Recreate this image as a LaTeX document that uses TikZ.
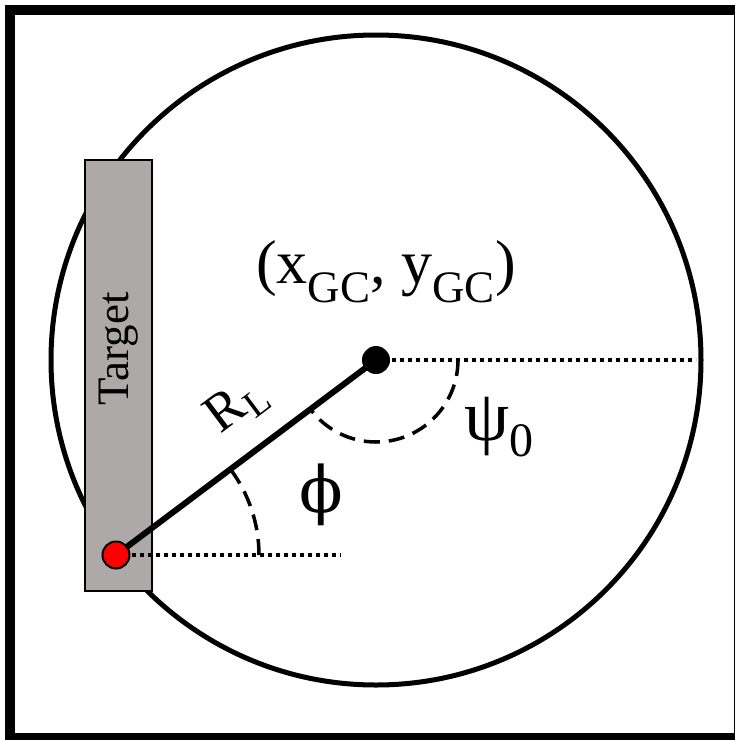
\documentclass[tikz,border=0pt]{standalone}
\usepackage{fontspec}
\setmainfont{Liberation Serif}
\newfontfamily\greekalt{DejaVu Serif}
\usetikzlibrary{positioning}
\definecolor{TargetGray}{HTML}{ADA9A9}
\definecolor{SourceRed}{HTML}{FF0000}
\newcommand{\lowsub}[3]{\raisebox{#1}{\fontsize{#2}{#2}\selectfont #3}}

\begin{document}
\begin{tikzpicture}[x=1pt,y=-1pt,
    dotline/.style={line width=4pt,dash pattern=on 4pt off 4pt},
    dashline/.style={line width=3.5pt,dash pattern=on 16pt off 9pt},
    lbl/.style={inner sep=0pt}]
  \useasboundingbox (0,0) rectangle (735,740);
  % frame and circle
  \draw[line width=10pt] (9.5,10) rectangle (739,738);
  \coordinate (gc) at (376,360);
  \coordinate (src) at (116,555);
  \draw[line width=5pt] (gc) circle[radius=325pt];
  % target
  \node[draw,fill=TargetGray,line width=2pt,minimum width=67pt,minimum height=431pt,
    inner sep=0pt,anchor=north west] (target) at (84,159) {};
  \node[lbl,rotate=90,font=\fontsize{45}{45}\selectfont] (tlabel) at (119,349) {Target};
  % reference lines
  \coordinate (gcend) at (696,360);
  \coordinate (srcend) at (341,555);
  \draw[dotline] (gc) -- (gcend);
  \draw[dotline] (src) -- (srcend);
  \draw[dashline] ([xshift=82pt]gc) arc[start angle=0,end angle=-143.13,radius=82pt];
  \draw[dashline] ([xshift=143pt]src) arc[start angle=0,end angle=36.87,radius=143pt];
  % radius
  \draw[line width=6pt] (src) -- (gc);
  \node[circle,fill=black,minimum size=28pt,inner sep=0pt] (gcdot) at (gc) {};
  \node[circle,draw,fill=SourceRed,line width=2pt,minimum size=27pt,inner sep=0pt] (srcdot) at (src) {};
  % labels
  \node[lbl,anchor=base,font=\fontsize{62}{62}\selectfont] (gclabel) at (386,283)
    {(x\lowsub{-19pt}{45}{GC}, y\lowsub{-19pt}{45}{GC})};
  \node[lbl,rotate=36.87,font=\fontsize{54}{54}\selectfont] (rlabel) at (237,406)
    {R\kern1pt\lowsub{-9pt}{38}{L}};
  \node[lbl,font=\fontsize{72}{72}\selectfont] (psilabel) at (499,427)
    {ψ\lowsub{-16pt}{48}{0}};
  \node[lbl,font=\fontsize{64}{64}\greekalt\selectfont] (philabel) at (321,495) {ϕ};
\end{tikzpicture}
\end{document}
